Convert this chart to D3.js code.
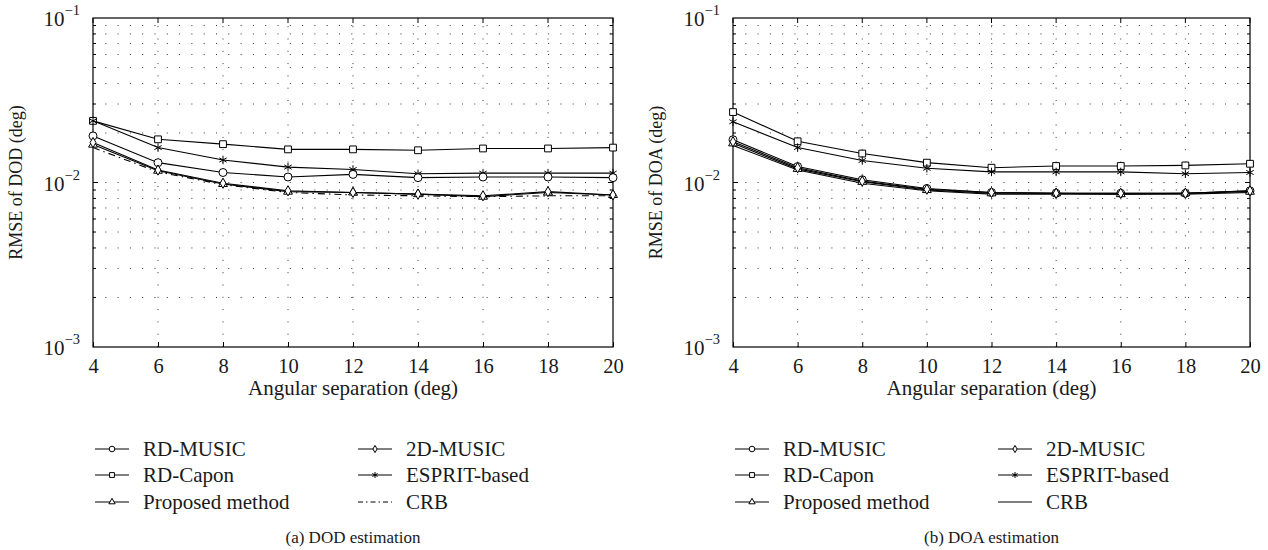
<!DOCTYPE html>
<html>
<head>
<meta charset="utf-8">
<script src="https://cdn.jsdelivr.net/npm/d3@7"></script>
<style>
  body { margin: 0; background: #fff; }
  text { font-family: "Liberation Serif", "Times New Roman", serif; fill: #1a1a1a; }
</style>
</head>
<body>
<svg id="chart" width="1268" height="550"></svg>
<script>
// angular separation (deg)
const angles = [4, 6, 8, 10, 12, 14, 16, 18, 20];
const yDecades = [-3, -2, -1];

// (a) DOD estimation
const dodRdMusic  = [0.0192, 0.0132, 0.0115, 0.0108, 0.0112, 0.0107, 0.0108, 0.0108, 0.0107];
const dod2dMusic  = [0.0175, 0.0119, 0.0099, 0.0089, 0.0087, 0.0085, 0.0083, 0.0088, 0.0084];
const dodRdCapon  = [0.0237, 0.0183, 0.0171, 0.0159, 0.0159, 0.0157, 0.0161, 0.0161, 0.0163];
const dodEsprit   = [0.0237, 0.0163, 0.0137, 0.0124, 0.0120, 0.0113, 0.0114, 0.0114, 0.0114];
const dodProposed = [0.0170, 0.0118, 0.0098, 0.0088, 0.0087, 0.0085, 0.0082, 0.0087, 0.0084];
const dodCrb      = [0.0163, 0.0116, 0.0097, 0.0087, 0.0084, 0.0083, 0.0082, 0.0083, 0.0083];

// (b) DOA estimation
const doaRdMusic  = [0.0182, 0.0125, 0.0104, 0.0092, 0.0087, 0.0086, 0.0086, 0.0086, 0.0089];
const doa2dMusic  = [0.0177, 0.0123, 0.0102, 0.0091, 0.0087, 0.0086, 0.0086, 0.0086, 0.0089];
const doaRdCapon  = [0.0268, 0.0178, 0.0150, 0.0132, 0.0123, 0.0126, 0.0126, 0.0127, 0.0130];
const doaEsprit   = [0.0234, 0.0163, 0.0136, 0.0122, 0.0116, 0.0116, 0.0116, 0.0113, 0.0115];
const doaProposed = [0.0173, 0.0121, 0.0101, 0.0090, 0.0086, 0.0086, 0.0085, 0.0086, 0.0088];
const doaCrb      = [0.0168, 0.0119, 0.0099, 0.0089, 0.0085, 0.0085, 0.0085, 0.0085, 0.0087];

const legendNames = ["RD-MUSIC", "RD-Capon", "Proposed method", "2D-MUSIC", "ESPRIT-based", "CRB"];
const markers = { "RD-MUSIC": "circle", "RD-Capon": "square", "Proposed method": "triangle",
                  "2D-MUSIC": "diamond", "ESPRIT-based": "star", "CRB": null };

const panels = [
  { left: 93, right: 613, caption: "(a)  DOD estimation", ylabel: "RMSE of DOD (deg)", crbDash: "7,4,1.5,4",
    series: { "RD-MUSIC": dodRdMusic, "2D-MUSIC": dod2dMusic, "RD-Capon": dodRdCapon,
              "ESPRIT-based": dodEsprit, "Proposed method": dodProposed, "CRB": dodCrb } },
  { left: 733, right: 1250, caption: "(b)  DOA estimation", ylabel: "RMSE of DOA (deg)", crbDash: null,
    series: { "RD-MUSIC": doaRdMusic, "2D-MUSIC": doa2dMusic, "RD-Capon": doaRdCapon,
              "ESPRIT-based": doaEsprit, "Proposed method": doaProposed, "CRB": doaCrb } }
];

const plotTop = 18, plotBottom = 347;
const svg = d3.select("#chart");

function symbolFor(kind, s) {
  const map = { circle: [d3.symbolCircle, 50 * s], square: [d3.symbolSquare, 46 * s],
                triangle: [d3.symbolTriangle, 34 * s], diamond: [d3.symbolDiamond, 30 * s],
                star: [d3.symbolAsterisk, 50 * s] };
  const m = map[kind];
  return d3.symbol().type(m[0]).size(m[1])();
}

panels.forEach(p => {
  const x = d3.scaleLinear().domain([4, 20]).range([p.left, p.right]);
  const y = d3.scaleLog().domain([1e-3, 1e-1]).range([plotBottom, plotTop]);
  const g = svg.append("g");

  // dotted grid
  const minor = [];
  [-3, -2].forEach(d => { for (let k = 1; k <= 9; k++) minor.push(k * Math.pow(10, d)); });
  const gridY = minor.filter(v => v > 1e-3);
  g.append("g").selectAll("line").data(gridY).join("line")
    .attr("x1", p.left).attr("x2", p.right)
    .attr("y1", d => y(d)).attr("y2", d => y(d))
    .attr("stroke", "#333").attr("stroke-width", 1).attr("stroke-dasharray", "1,11.3");
  g.append("g").selectAll("line").data(angles.slice(1, -1)).join("line")
    .attr("x1", d => x(d)).attr("x2", d => x(d))
    .attr("y1", plotBottom).attr("y2", plotTop)
    .attr("stroke", "#333").attr("stroke-width", 1).attr("stroke-dasharray", "1,11.3");

  // y ticks (minor + major) on both sides
  const isMajor = d => Math.abs(Math.log10(d) - Math.round(Math.log10(d))) < 1e-6;
  g.append("g").selectAll("line").data(gridY).join("line")
    .attr("x1", p.left).attr("x2", d => p.left + (isMajor(d) ? 5 : 3))
    .attr("y1", d => y(d)).attr("y2", d => y(d)).attr("stroke", "#000");
  g.append("g").selectAll("line").data(gridY).join("line")
    .attr("x1", p.right).attr("x2", d => p.right - (isMajor(d) ? 5 : 3))
    .attr("y1", d => y(d)).attr("y2", d => y(d)).attr("stroke", "#000");

  // x axis with inward ticks
  const xAxis = d3.axisBottom(x).tickValues(angles).tickSizeInner(-5).tickSizeOuter(0).tickPadding(11);
  const ax = g.append("g").attr("transform", `translate(0,${plotBottom})`).call(xAxis);
  ax.select(".domain").remove();
  ax.selectAll(".tick line").attr("stroke", "#000");
  ax.selectAll("text").attr("font-size", 20.5).attr("fill", "#1a1a1a")
    .style("font-family", "'Liberation Serif', serif");
  g.append("g").selectAll("line").data(angles).join("line")
    .attr("x1", d => x(d)).attr("x2", d => x(d)).attr("y1", plotTop).attr("y2", plotTop + 5).attr("stroke", "#000");

  // y tick labels 10^n
  const yl = g.append("g").selectAll("text").data(yDecades).join("text")
    .attr("x", p.left - 13).attr("y", d => y(Math.pow(10, d)) + 8)
    .attr("text-anchor", "end").attr("font-size", 21);
  yl.append("tspan").text("10");
  yl.append("tspan").attr("dy", -11).attr("font-size", 14.5).text(d => "\u2212" + Math.abs(d));

  // box
  g.append("rect").attr("x", p.left).attr("y", plotTop)
    .attr("width", p.right - p.left).attr("height", plotBottom - plotTop)
    .attr("fill", "none").attr("stroke", "#000").attr("stroke-width", 1.2);

  // curves
  const line = d3.line().x((d, i) => x(angles[i])).y(d => y(d));
  const order = ["CRB", "RD-Capon", "ESPRIT-based", "RD-MUSIC", "Proposed method", "2D-MUSIC"];
  order.forEach(name => {
    const vals = p.series[name];
    g.append("path").datum(vals).attr("d", line)
      .attr("fill", "none").attr("stroke", "#000").attr("stroke-width", 1.1)
      .attr("stroke-dasharray", name === "CRB" && p.crbDash ? p.crbDash : null);
    if (markers[name]) {
      g.append("g").selectAll("path").data(vals).join("path")
        .attr("transform", (d, i) => `translate(${x(angles[i])},${y(d)})`)
        .attr("d", symbolFor(markers[name], 1))
        .attr("fill", markers[name] === "star" ? "none" : "#fff")
        .attr("stroke", "#000").attr("stroke-width", 1);
    }
  });

  // axis titles
  const cx = (p.left + p.right) / 2;
  g.append("text").attr("x", cx).attr("y", 395).attr("text-anchor", "middle")
    .attr("font-size", 21).text("Angular separation (deg)");
  g.append("text").attr("transform", `translate(${p.left - 71},${(plotTop + plotBottom) / 2}) rotate(-90)`)
    .attr("text-anchor", "middle").attr("font-size", 18).text(p.ylabel);

  // legend
  const rows = [449, 475, 502];
  const cols = [p.left + 2, p.left + 265];
  legendNames.forEach((name, i) => {
    const lx = cols[Math.floor(i / 3)], ly = rows[i % 3];
    const lg = g.append("g");
    lg.append("line").attr("x1", lx).attr("x2", lx + 34).attr("y1", ly).attr("y2", ly)
      .attr("stroke", "#000")
      .attr("stroke-dasharray", name === "CRB" && p.crbDash ? "5,3,1.5,3" : null);
    if (markers[name]) {
      lg.append("path").attr("transform", `translate(${lx + 17},${ly})`)
        .attr("d", symbolFor(markers[name], 0.5))
        .attr("fill", markers[name] === "star" ? "none" : "#fff").attr("stroke", "#000");
    }
    lg.append("text").attr("x", lx + 48).attr("y", ly + 7).attr("font-size", 21).text(name);
  });

  g.append("text").attr("x", cx).attr("y", 543).attr("text-anchor", "middle")
    .attr("font-size", 17).text(p.caption);
});
</script>
</body>
</html>
